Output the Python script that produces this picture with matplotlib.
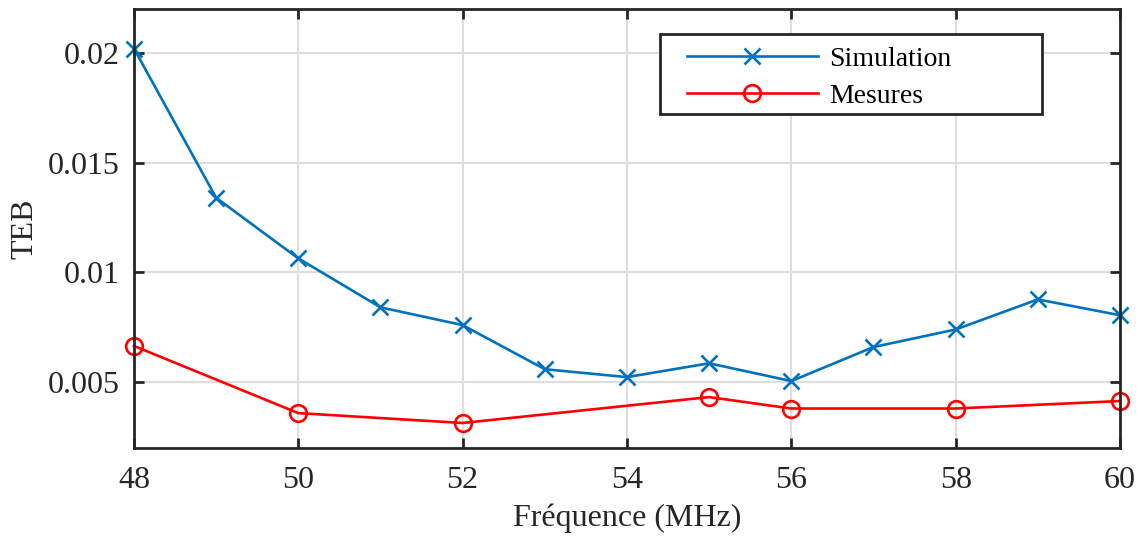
import matplotlib
matplotlib.use("Agg")
import matplotlib.pyplot as plt
from matplotlib.patches import Rectangle

freq_sim = [48, 49, 50, 51, 52, 53, 54, 55, 56, 57, 58, 59, 60]
teb_sim = [0.0202, 0.0134, 0.01064, 0.00841, 0.0076, 0.00559, 0.00523, 0.00586, 0.00505, 0.0066, 0.0074, 0.00877, 0.00805]
freq_mes = [48, 50, 52, 55, 56, 58, 60]
teb_mes = [0.00665, 0.00359, 0.00314, 0.00432, 0.0038, 0.0038, 0.00414]
xticks = [48, 50, 52, 54, 56, 58, 60]
yticks = [0.005, 0.01, 0.015, 0.02]
ytick_labels = ["0.005", "0.01", "0.015", "0.02"]

plt.rcParams['font.family'] = ['Liberation Serif', 'DejaVu Serif']

fig = plt.figure(figsize=(11.42, 5.37), dpi=100)
ax = fig.add_axes([0.1173, 0.1657, 0.8634, 0.8175])

ax.plot(freq_sim, teb_sim, color='#0072BD', lw=1.9, marker='x', ms=12, mew=1.9, label='Simulation', zorder=3, clip_on=False)
ax.plot(freq_mes, teb_mes, color='#FF0000', lw=1.9, marker='o', ms=12, mfc='none', mew=1.9, label='Mesures', zorder=3, clip_on=False)

ax.set_xlim(48, 60)
ax.set_ylim(0.002, 0.022)
ax.set_xticks(xticks)
ax.set_yticks(yticks)
ax.set_yticklabels(ytick_labels)
ax.grid(True, color='#dedede', lw=1.5)
ax.set_axisbelow(True)
ax.tick_params(direction='in', length=7, width=2, colors='#262626', labelsize=23, top=True, right=True, pad=10)
ax.tick_params(axis='x', pad=13)
for s in ax.spines.values():
    s.set_linewidth(2)
    s.set_color('#262626')
    s.set_zorder(4)

ax.set_xlabel('Fréquence (MHz)', fontsize=23, color='#262626', labelpad=6)
ax.set_ylabel('TEB', fontsize=23, color='#262626', labelpad=6)

# legend frame (MATLAB-style wide box)
frame = Rectangle((0.5335, 0.761), 0.921 - 0.5335, 0.943 - 0.761, transform=ax.transAxes,
                  facecolor='white', edgecolor='#262626', lw=2, zorder=5)
ax.add_patch(frame)
leg = ax.legend(loc='center left', bbox_to_anchor=(0.561, 0.843), fontsize=20, frameon=False,
                handlelength=4.7, handletextpad=0.4, borderpad=0, labelspacing=0.42, borderaxespad=0)
leg.set_zorder(6)
for t in leg.get_texts():
    t.set_color('black')

fig.savefig('out.png', dpi=100)
